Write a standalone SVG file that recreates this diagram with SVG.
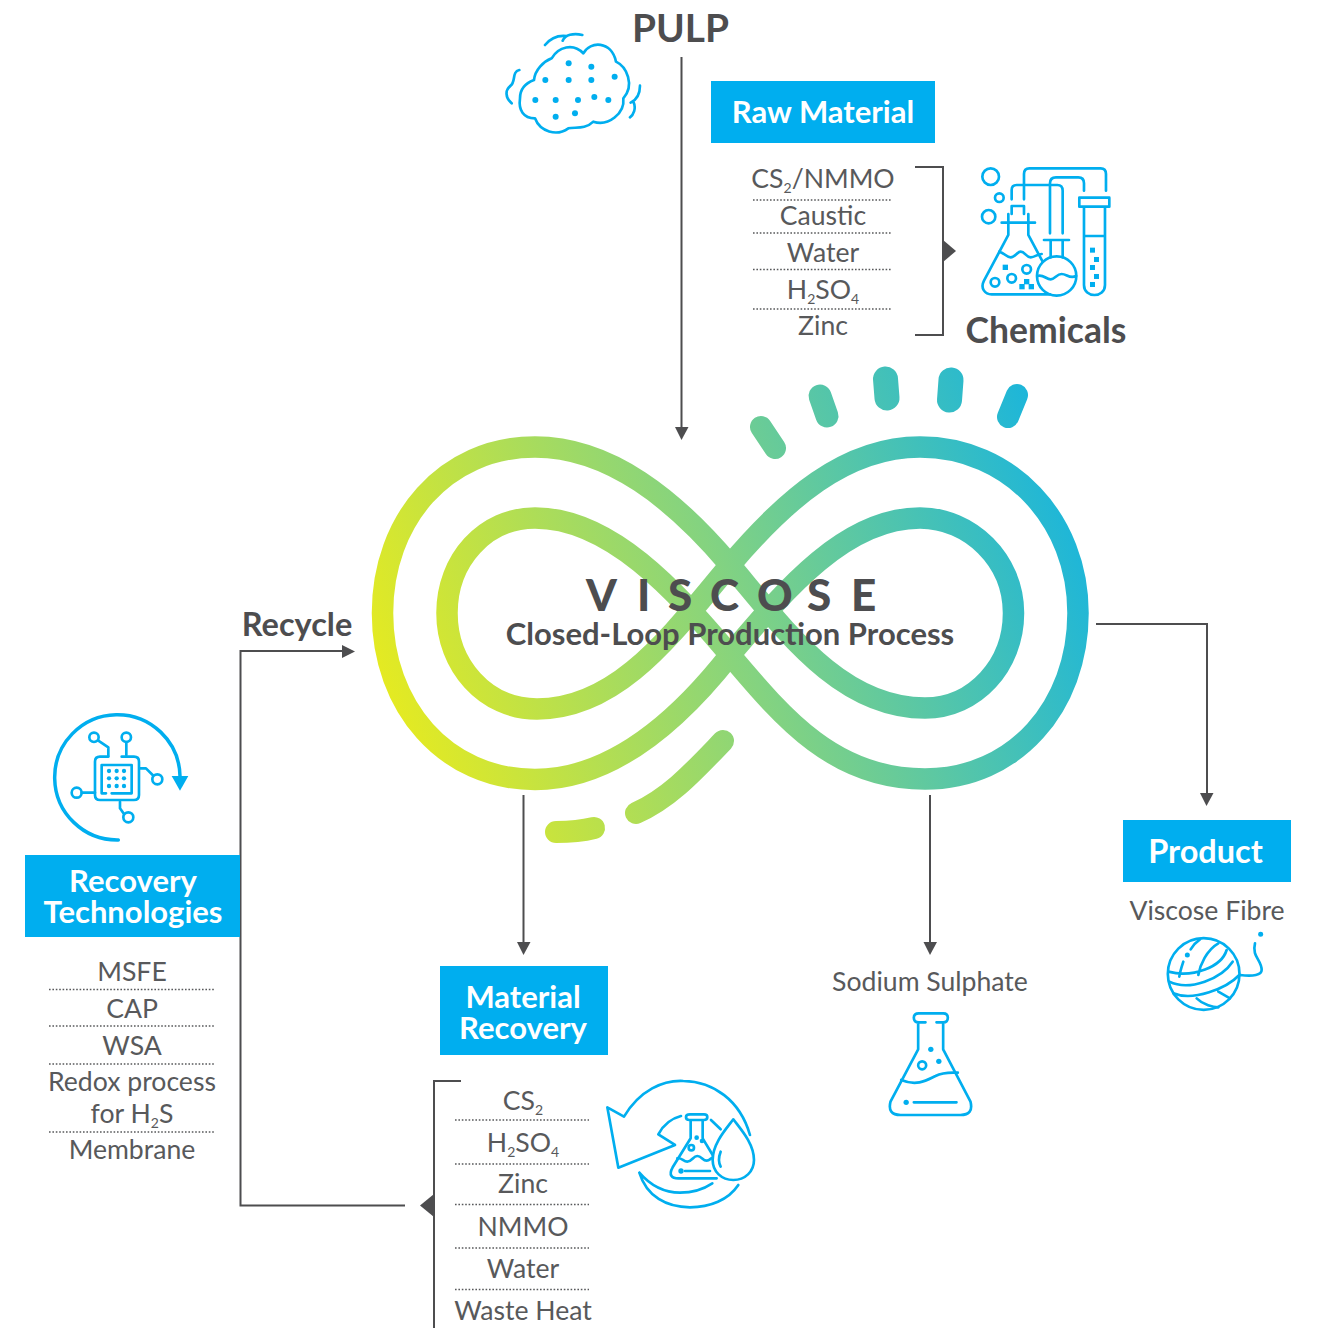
<svg xmlns="http://www.w3.org/2000/svg" width="1320" height="1328" viewBox="0 0 1320 1328">
<style>
text{font-family:"Lato","Liberation Sans",sans-serif;fill:#58595b;text-anchor:middle}
.b{font-weight:700;fill:#4d4d4f}
.w{font-weight:700;fill:#fff;font-size:31px}
.l{font-size:26.600px}
.s{font-size:14px}
.box{fill:#00aeef}
.dot{stroke:#58595b;stroke-width:1.4;stroke-dasharray:1.6 1.8;fill:none}
.con{stroke:#4d4d4f;stroke-width:2;fill:none}
.hd{fill:#4d4d4f;stroke:none}
.ic{fill:none;stroke:#00aeef;stroke-width:8;stroke-linecap:round;stroke-linejoin:round}
.id{fill:#00aeef;stroke:none}
.inf{fill:none;stroke:url(#g);stroke-linecap:round}
</style>
<defs>
<linearGradient id="g" gradientUnits="userSpaceOnUse" x1="390" y1="740" x2="1075" y2="490">
<stop offset="0" stop-color="#e8eb1e"/><stop offset=".5" stop-color="#84d380"/><stop offset="1" stop-color="#1ab5dc"/>
</linearGradient>
</defs>

<g id="connectors">
<path class="con" d="M681.500 57V428"/><path class="hd" d="M675 427H688.500L681.500 440Z"/>
<path class="con" d="M915 167H943V335H915"/><path class="hd" d="M943 240L956 251L943 262Z"/>
<path class="con" d="M405 1205.500H240.500V651H343"/><path class="hd" d="M342 645L355 651.500L342 658Z"/>
<path class="con" d="M461 1081H434V1328"/><path class="hd" d="M434 1194V1217L420 1205.500Z"/>
<path class="con" d="M523.500 795V943"/><path class="hd" d="M517 942H530.500L523.500 955Z"/>
<path class="con" d="M930 795V943"/><path class="hd" d="M923.500 942H937L930 955Z"/>
<path class="con" d="M1096 624H1207V794"/><path class="hd" d="M1200 793H1213.500L1206.500 806Z"/>
</g>

<g id="infinity">
<path class="inf" stroke-width="21.500" d="M535 447C610 447 675 500 730 565C785 630 840 708 925 708C975 708 1013.500 665 1013.500 613C1013.500 560 970 518 920 518C845 518 785 590 730 655C675 725 610 779.500 535 779.500C445 779.500 382.500 706 382.500 613C382.500 520 445 447 535 447Z"/>
<path class="inf" stroke-width="21.500" d="M535 518C610 518 675 590 730 655C785 720 835 779 925 779C1015 779 1078 706 1078 613C1078 520 1010 447 920 447C845 447 785 500 730 565C675 630 620 709 537 709C485 709 447 665 447 613C447 560 485 518 535 518Z"/>
<path class="inf" stroke-width="22" d="M761 427L775 448"/>
<path class="inf" stroke-width="23" d="M820 396L827 416"/>
<path class="inf" stroke-width="25" d="M885.500 379L887 398"/>
<path class="inf" stroke-width="25" d="M951 380L949.500 400"/>
<path class="inf" stroke-width="22" d="M1017 395L1008 417"/>
<path class="inf" stroke-width="22" d="M723 741C695 770 670 798 636 813"/>
<path class="inf" stroke-width="22" d="M556 832C570 832 582 831 594 828"/>
</g>

<g id="title">
<text class="b" style="font-size:44px;font-weight:900;text-anchor:start" x="586 637 668 710 757 807 851" y="611">VISCOSE</text>
<text class="b" style="font-size:31px" x="730" y="645">Closed-Loop Production Process</text>
</g>

<g id="pulp">
<text class="b" style="font-size:38.800px" x="680.500" y="42">PULP</text>
<g transform="translate(490 20) scale(.3333)">
<path class="ic" d="M90 235C90 205 105 190 132 180C135 150 160 125 185 115C205 80 250 68 280 100C300 62 365 62 378 125C410 140 435 195 400 235C405 280 355 320 310 305C285 330 255 320 235 325C200 350 150 335 135 295C100 295 85 270 90 235Z"/>
<path class="ic" d="M165 75C185 50 205 45 230 48M218 62C225 45 250 38 277 45M88 150C65 155 78 185 62 197C45 210 45 232 65 250M450 197C450 225 438 240 422 248M430 245C440 265 430 285 420 292"/>
<g class="id"><circle cx="236" cy="130" r="9"/><circle cx="304" cy="140" r="9"/><circle cx="374" cy="170" r="9"/><circle cx="166" cy="180" r="9"/><circle cx="236" cy="180" r="9"/><circle cx="304" cy="180" r="9"/><circle cx="136" cy="240" r="9"/><circle cx="197" cy="240" r="9"/><circle cx="264" cy="240" r="9"/><circle cx="313" cy="231" r="9"/><circle cx="355" cy="240" r="9"/><circle cx="197" cy="290" r="9"/><circle cx="255" cy="280" r="9"/></g>
</g>
</g>

<g id="raw-material">
<rect class="box" x="711" y="81" width="224" height="62"/>
<text class="w" x="823" y="123">Raw Material</text>
<text class="l" x="823" y="188">CS<tspan class="s" dy="5">2</tspan><tspan dy="-5">/NMMO</tspan></text>
<path class="dot" d="M753 200H892M753 233H892M753 269.500H892M753 309H892"/>
<text class="l" x="823" y="225.400">Caustic</text>
<text class="l" x="823" y="262.400">Water</text>
<text class="l" x="823" y="298.500">H<tspan class="s" dy="5">2</tspan><tspan dy="-5">SO</tspan><tspan class="s" dy="5">4</tspan></text>
<text class="l" x="823" y="335.400">Zinc</text>
</g>

<g id="chemicals">
<text class="b" style="font-size:35.500px" x="1046" y="342.500">Chemicals</text>
<g transform="translate(960 150) scale(.3333)">
<circle class="ic" cx="92" cy="80" r="25"/><circle class="ic" cx="118" cy="143" r="13"/><circle class="ic" cx="86" cy="200" r="20"/>
<path class="ic" d="M155 192V168H192V192M125 218H225M145 192V255L72 392C60 415 75 433 95 433H270M205 192V255L248 335"/>
<path class="ic" d="M118 305C135 310 140 322 152 322C165 322 172 305 182 305C195 305 198 322 212 322C225 322 232 312 245 312"/>
<rect class="id" x="128" y="344" width="16" height="16"/><rect class="id" x="192" y="387" width="16" height="16"/><rect class="id" x="178" y="402" width="16" height="16"/><rect class="id" x="206" y="402" width="16" height="16"/>
<circle class="ic" cx="200" cy="358" r="13"/><circle class="ic" cx="155" cy="385" r="13"/><circle class="ic" cx="105" cy="397" r="13"/>
<circle class="ic" cx="290" cy="378" r="59"/>
<path class="ic" d="M252 270H327M272 270V322M308 270V322M232 378C250 372 258 388 272 388C285 388 290 372 305 372C320 372 330 388 348 378"/>
<path class="ic" d="M270 250V100Q270 82 288 82H355Q372 82 372 100V122M308 250V122Q308 105 292 105H170Q155 105 155 120V148M192 148V72Q192 55 208 55H422Q438 55 438 72V122"/>
<path class="ic" d="M358 143H448V170H358ZM372 170V405C372 445 435 445 435 405V170M372 258H435"/>
<rect class="id" x="390" y="293" width="15" height="15"/><rect class="id" x="402" y="321" width="15" height="15"/><rect class="id" x="390" y="345" width="15" height="15"/><rect class="id" x="402" y="372" width="15" height="15"/><rect class="id" x="390" y="396" width="15" height="15"/>
</g>
</g>

<g id="recycle">
<text class="b" style="font-size:32.500px" x="297" y="636">Recycle</text>
</g>

<g id="recovery-technologies">
<g transform="translate(40 700) scale(.3333)">
<path class="ic" style="stroke-width:10.500" d="M235 420A188 188 0 1 1 420 228"/>
<path class="id" d="M395 228H445L420 272Z"/>
<path class="ic" d="M205 170H180Q165 170 165 185V285Q165 300 180 300H282Q297 300 297 285V185Q297 170 282 170H245M215 280H275V195H185V280H198"/>
<g class="id"><circle cx="207" cy="213" r="6.500"/><circle cx="230" cy="213" r="6.500"/><circle cx="252" cy="213" r="6.500"/><circle cx="207" cy="235" r="6.500"/><circle cx="230" cy="235" r="6.500"/><circle cx="252" cy="235" r="6.500"/><circle cx="207" cy="258" r="6.500"/><circle cx="230" cy="258" r="6.500"/><circle cx="252" cy="258" r="6.500"/></g>
<circle class="ic" cx="162" cy="112" r="14"/><circle class="ic" cx="259" cy="112" r="14"/><circle class="ic" cx="352" cy="238" r="15"/><circle class="ic" cx="110" cy="278" r="15"/><circle class="ic" cx="265" cy="352" r="15"/>
<path class="ic" d="M175 122L205 142V168M259 126V165M300 205H318L338 225M125 278H165M240 305V325L252 342"/>
</g>
<rect class="box" x="25" y="855" width="215" height="82"/>
<text class="w" x="133" y="892">Recovery</text>
<text class="w" x="133" y="923">Technologies</text>
<path class="dot" d="M49 989.500H215M49 1026H215M49 1064H215M49 1132H215"/>
<text class="l" x="132" y="981.400">MSFE</text>
<text class="l" x="132" y="1018.400">CAP</text>
<text class="l" x="132" y="1055.400">WSA</text>
<text class="l" x="132" y="1091.400">Redox process</text>
<text class="l" x="132" y="1123.400">for H<tspan class="s" dy="5">2</tspan><tspan dy="-5">S</tspan></text>
<text class="l" x="132" y="1159.400">Membrane</text>
</g>

<g id="material-recovery">
<rect class="box" x="440" y="966" width="168" height="89"/>
<text class="w" x="523" y="1008.400">Material</text>
<text class="w" x="523" y="1039.400">Recovery</text>
<path class="dot" d="M455 1120H589M455 1164H589M455 1204.500H589M455 1248H589M455 1289.500H589"/>
<text class="l" x="523" y="1110">CS<tspan class="s" dy="5">2</tspan></text>
<text class="l" x="523" y="1151.600">H<tspan class="s" dy="5">2</tspan><tspan dy="-5">SO</tspan><tspan class="s" dy="5">4</tspan></text>
<text class="l" x="523" y="1193.400">Zinc</text>
<text class="l" x="523" y="1236.400">NMMO</text>
<text class="l" x="523" y="1278.400">Water</text>
<text class="l" x="523" y="1320.400">Waste Heat</text>
<g transform="translate(600 1070) scale(.3333)">
<path class="ic" d="M72 140L22 112L55 293L225 225L175 193C190 165 215 145 243 138M72 140C120 60 190 30 250 33C340 35 420 90 450 195M333 150L362 178"/>
<path class="ic" d="M118 308C150 345 190 368 240 368C280 368 310 358 337 340M118 308C140 380 200 412 270 412C330 412 385 390 415 345"/>
<path class="ic" d="M270 133H312Q322 133 322 141Q322 150 312 150H268Q258 150 258 141Q258 133 270 133ZM272 150V205L218 292C205 315 215 325 235 325H350M308 150V205L338 255"/>
<path class="ic" d="M232 265C245 262 250 275 262 275C275 275 280 258 292 258C305 258 308 272 320 272C328 272 332 265 337 263"/>
<circle class="ic" cx="274" cy="233" r="8"/><circle class="id" cx="290" cy="203" r="7"/><circle class="id" cx="306" cy="213" r="7"/><circle class="id" cx="243" cy="303" r="8"/>
<path class="ic" d="M255 303H330"/>
<path class="ic" d="M400 148C380 175 338 220 338 270C338 305 365 330 400 330C435 330 462 305 462 270C462 220 420 175 400 148ZM362 245Q352 270 362 290"/>
</g>
</g>

<g id="sodium-sulphate">
<text class="l" x="930" y="991">Sodium Sulphate</text>
<g transform="translate(870.500 1000) scale(.3333)">
<path class="ic" d="M165 67H145Q130 67 130 53Q130 40 145 40H218Q232 40 232 53Q232 67 218 67H198M143 67V148L60 305Q50 345 90 345H270Q310 345 300 305L218 148V67"/>
<path class="ic" d="M92 240C140 260 170 240 195 228C220 215 245 218 262 218M130 307H258"/>
<circle class="id" cx="181" cy="148" r="8"/><circle class="id" cx="205" cy="184" r="8"/><circle class="ic" cx="155" cy="196" r="12"/><circle class="id" cx="107" cy="307" r="8"/>
</g>
</g>

<g id="product">
<rect class="box" x="1123" y="820" width="168" height="62"/>
<text class="w" style="font-size:32.500px" x="1205.500" y="863">Product</text>
<text class="l" x="1207" y="920">Viscose Fibre</text>
<g transform="translate(1150 920) scale(.3333)">
<circle class="ic" cx="161" cy="162" r="107.500"/>
<path class="ic" d="M150 58C135 68 128 78 122 88M100 125C95 140 90 155 88 170M205 70C170 90 150 135 145 165M230 90C215 140 130 175 55 155M248 125C215 175 120 215 58 185M268 165C230 205 130 245 70 220M140 235C160 255 190 262 205 262M205 215L240 235M270 165C310 170 335 165 335 150C335 120 305 110 315 70"/>
<circle class="id" cx="112" cy="105" r="7.500"/><circle class="id" cx="332" cy="43" r="7.500"/>
</g>
</g>
</svg>
